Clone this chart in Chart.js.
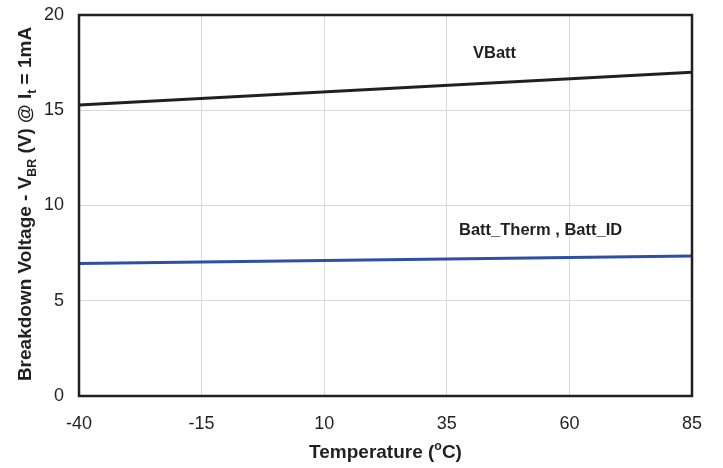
<!DOCTYPE html>
<html>
<head>
<meta charset="utf-8">
<script src="https://cdn.jsdelivr.net/npm/chart.js@4"></script>
<style>
  html, body { margin: 0; padding: 0; background: #fff; }
  #wrap { width: 723px; height: 468px; }
</style>
</head>
<body>
<div id="wrap"><canvas id="myChart" width="723" height="468"></canvas></div>
<script>
// Temperature points (deg C) and breakdown voltages
const temps = [-40, 85];
const vbatt = [15.28, 17.0];
const battTherm = [6.95, 7.35];
const xTicks = [-40, -15, 10, 35, 60, 85];

// draws axis titles with sub/superscripts, the frame and the series labels
const decorations = {
  id: "decorations",
  afterDraw(chart) {
    const c = chart.ctx;
    const a = chart.chartArea;
    c.save();
    c.strokeStyle = "#231f20";
    c.lineWidth = 2.5;
    c.strokeRect(a.left, a.top, a.right - a.left, a.bottom - a.top);

    c.fillStyle = "#231f20";
    c.textBaseline = "alphabetic";
    c.font = "bold 16.5px Arial, 'Liberation Sans'";
    c.fillText("VBatt", 473, 58);
    c.fillText("Batt_Therm , Batt_ID", 459, 235);

    // rich text helper: parts = [text, mode] with mode "", "sub", "sup"
    function rich(parts, size) {
      let w = 0;
      parts.forEach(([t, m]) => {
        c.font = "bold " + (m ? size * 0.65 : size) + "px Arial, 'Liberation Sans'";
        w += c.measureText(t).width;
      });
      return {
        width: w,
        draw(x, y) {
          parts.forEach(([t, m]) => {
            c.font = "bold " + (m ? size * 0.65 : size) + "px Arial, 'Liberation Sans'";
            let dy = m === "sub" ? size * 0.25 : m === "sup" ? -size * 0.4 : 0;
            c.fillText(t, x, y + dy);
            x += c.measureText(t).width;
          });
        },
      };
    }

    const xt = rich([["Temperature (", ""], ["o", "sup"], ["C)", ""]], 19);
    xt.draw((a.left + a.right) / 2 - xt.width / 2, 458);

    const yt = rich([
      ["Breakdown Voltage - V", ""], ["BR", "sub"], [" (V) @ I", ""],
      ["t", "sub"], [" = 1mA", ""],
    ], 19);
    c.translate(31, 204);
    c.rotate(-Math.PI / 2);
    yt.draw(-yt.width / 2, 0);
    c.restore();
  },
};

const ctx = document.getElementById("myChart");

new Chart(ctx, {
  type: "scatter",
  data: {
    datasets: [
      {
        label: "VBatt",
        data: temps.map((t, i) => ({ x: t, y: vbatt[i] })),
        showLine: true,
        borderColor: "#231f20",
        borderWidth: 3,
        pointRadius: 0,
      },
      {
        label: "Batt_Therm , Batt_ID",
        data: temps.map((t, i) => ({ x: t, y: battTherm[i] })),
        showLine: true,
        borderColor: "#2e4fa3",
        borderWidth: 3,
        pointRadius: 0,
      },
    ],
  },
  options: {
    responsive: false,
    animation: false,
    layout: { padding: { top: 15, right: 31, left: 0, bottom: 0 } },
    plugins: { legend: { display: false }, tooltip: { enabled: false } },
    scales: {
      x: {
        type: "linear",
        min: -40,
        max: 85,
        afterBuildTicks: (axis) => {
          axis.ticks = xTicks.map((v) => ({ value: v }));
        },
        afterFit: (axis) => {
          axis.height = 72;
          axis.paddingLeft = 0;
          axis.paddingRight = 0;
        },
        grid: { color: "#d9d9d9", lineWidth: 1, drawTicks: false },
        border: { display: false },
        ticks: {
          padding: 17,
          color: "#231f20",
          font: { family: "Arial, 'Liberation Sans'", size: 18 },
        },
      },
      y: {
        min: 0,
        max: 20,
        afterFit: (axis) => {
          axis.width = 79;
          axis.paddingTop = 0;
          axis.paddingBottom = 0;
        },
        grid: { color: "#d9d9d9", lineWidth: 1, drawTicks: false },
        border: { display: false },
        ticks: {
          stepSize: 5,
          padding: 15,
          color: "#231f20",
          font: { family: "Arial, 'Liberation Sans'", size: 18 },
        },
      },
    },
  },
  plugins: [decorations],
});
</script>
</body>
</html>
